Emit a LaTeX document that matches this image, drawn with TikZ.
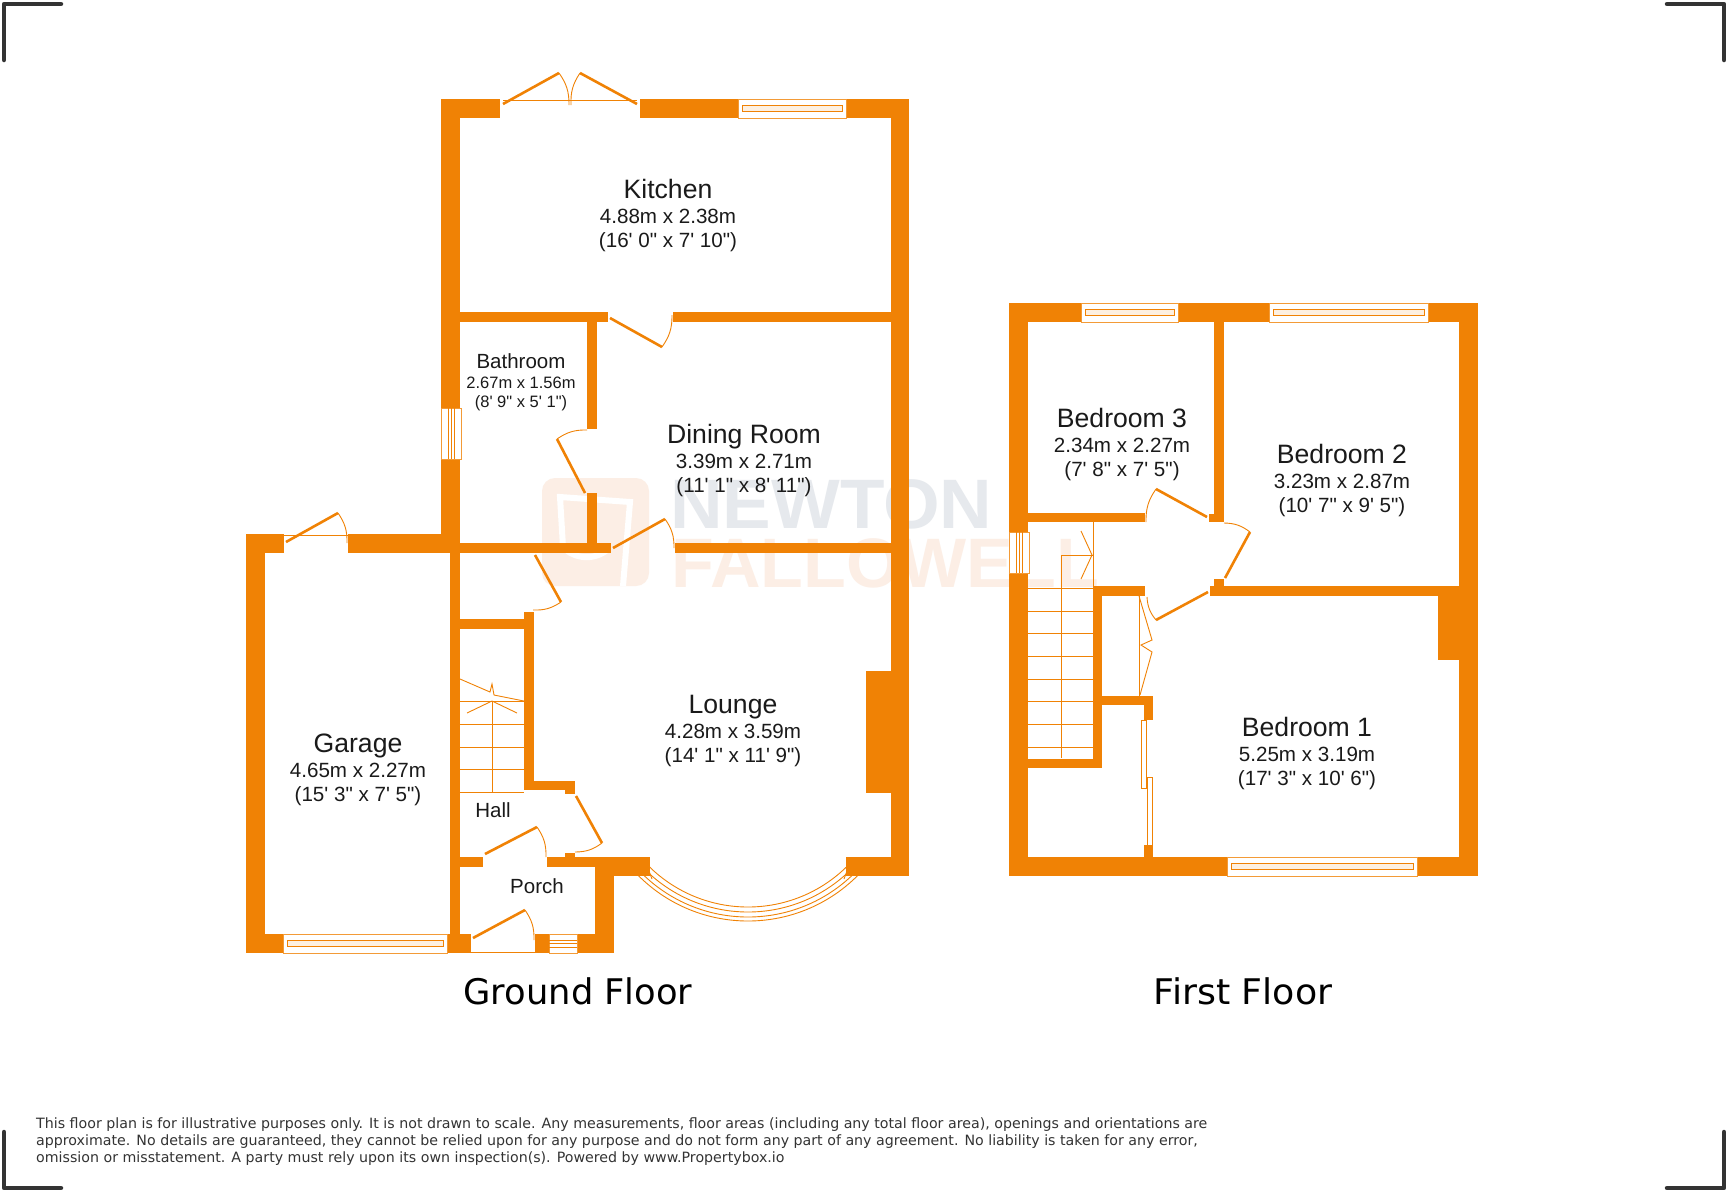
\documentclass[tikz,border=0pt]{standalone}
\usepackage{fontspec}
\newfontfamily\planfont{Liberation Sans}
\newfontfamily\notefont{DejaVu Sans}
\definecolor{wall}{HTML}{F08205}
\definecolor{ink}{HTML}{1A1A1A}
\definecolor{mark}{HTML}{333333}
\definecolor{markgrey}{HTML}{E6E9ED}
\definecolor{markpale}{HTML}{FCEEE5}
\newcommand*{\wallbox}[4]{\fill [wall] (#1,#2) rectangle (#3,#4);}
\newcommand*{\door}[4][left]{\draw [leaf] #2 -- #3; \draw [swing] #3 to [bend #1=18] #4;}
\newcommand*{\hwin}[4]{%
    \draw [pane] (#1,#2) rectangle (#3,#4);
    \draw [swing, fill=wall!12] (#1+4,{(#2+#4)/2-3}) rectangle (#3-4,{(#2+#4)/2+3});}
\newcommand*{\vwin}[4]{%
    \draw [pane] (#1,#2) rectangle (#3,#4);
    \foreach \dx in {-3,0,3} \draw [swing] ({(#1+#3)/2+\dx},#2) -- ({(#1+#3)/2+\dx},#4);}
\newcommand*{\room}[6]{%
    \node [roomname] (#1)    at (#2,#3)    {#4};
    \node [roomdim]  (#1m)   at (#2,#3+25) {#5};
    \node [roomdim]  (#1ft)  at (#2,#3+49) {#6};}
\tikzset{
    roomname/.style = {anchor=base, inner sep=0pt, text=ink, font=\planfont\fontsize{26.6}{30}\selectfont},
    roomdim/.style  = {anchor=base, inner sep=0pt, text=ink, font=\planfont\fontsize{20.6}{23}\selectfont},
    smallname/.style= {anchor=base, inner sep=0pt, text=ink, font=\planfont\fontsize{20.5}{24}\selectfont},
    smalldim/.style = {anchor=base, inner sep=0pt, text=ink, font=\planfont\fontsize{16.5}{20}\selectfont},
    floortitle/.style = {anchor=base, inner sep=0pt, text=black, font=\notefont\fontsize{35.3}{40}\selectfont},
    logotext/.style = {anchor=base west, inner sep=0pt, font=\planfont\bfseries\fontsize{70}{70}\selectfont},
    leaf/.style  = {draw=wall, line width=2.6pt},
    swing/.style = {draw=wall, line width=0.9pt},
    pane/.style  = {draw=wall!80!white, line width=0.9pt, fill=white},
    corner/.style = {draw=mark, line width=4.5pt, line cap=round, line join=round}
}

\begin{document}
\begin{tikzpicture}[x=1pt,y=-1pt]
    \useasboundingbox (0,0) rectangle (1728,1192);
    \fill [white] (0,0) rectangle (1728,1192);
    % crop marks
    \draw [corner] (4,60) -- (4,4) -- (61,4);
    \draw [corner] (1667,4) -- (1724,4) -- (1724,60);
    \draw [corner] (4,1132) -- (4,1188) -- (61,1188);
    \draw [corner] (1667,1188) -- (1724,1188) -- (1724,1132);
    % watermark behind the walls
    \fill [markpale, rounded corners=13pt] (542,478) rectangle (649,586);
    \draw [white, line width=6pt] (563,547) -- (560,497) -- (630,502) -- (623,586);
    \draw [white, line width=6pt] (563,547) .. controls (575,560) and (595,560) .. (607,550);
    \node [logotext, text=markgrey, xscale=1.04] (logotop) at (670,528) {NEWTON};
    \node [logotext, text=markpale] (logolow) at (671,587) {FALLOWELL};
    % ground floor walls
    \foreach \xa/\ya/\xb/\yb in {246/534/265/953, 246/534/284/553, 348/534/460/553, 441/99/460/534,
        441/99/500/118, 640/99/909/118, 891/99/909/876, 450/553/460/934,
        246/934/283/953, 447/934/471/953, 535/934/549/953, 577/934/614/953,
        595/857/614/953, 460/312/608/322, 673/312/891/322, 587/322/597/429, 587/493/597/543,
        460/543/611/553, 675/543/891/553, 460/619/525/629, 524/612/534/790, 534/781/565/790,
        565/781/575/794, 460/857/483/867, 547/857/650/867, 595/857/650/876, 565/853/575/857,
        846/857/909/876, 866/671/891/793}
        \wallbox{\xa}{\ya}{\xb}{\yb}
    % first floor walls
    \foreach \xa/\ya/\xb/\yb in {1009/303/1478/322, 1009/303/1028/876, 1459/303/1478/876, 1009/857/1478/876,
        1214/322/1224/522, 1209/514/1224/522, 1028/513/1145/522, 1028/759/1102/768, 1093/586/1102/768,
        1093/586/1145/596, 1210/586/1459/596, 1214/579/1224/586, 1438/586/1459/660,
        1102/696/1153/705, 1144/696/1153/720, 1144/845/1153/857}
        \wallbox{\xa}{\ya}{\xb}{\yb}
    % ground floor windows
    \hwin{738}{99}{846}{118}
    \hwin{283}{934}{447}{953}
    \vwin{441}{408}{461}{459}
    \draw [pane] (549,934) rectangle (577,953);
    \foreach \y in {940,943.5,947} \draw [swing] (549,\y) -- (577,\y);
    % ground floor doors
    \draw [swing] (503,100) -- (637,100);
    \door{(503,104)}{(559,73)}{(569,105)}
    \door[right]{(637,104)}{(580,73)}{(571,105)}
    \draw [swing] (284,535) -- (348,535);
    \door{(286,542)}{(338,513)}{(347,543)}
    \door[right]{(610,318)}{(662,347)}{(672,315)}
    \door{(585,493)}{(557,439)}{(587,430)}
    \door{(613,548)}{(665,519)}{(674,548)}
    \door{(535,555)}{(561,602)}{(533,610)}
    \door{(576,796)}{(602,843)}{(575,852)}
    \door{(485,854)}{(537,827)}{(546,857)}
    \door{(473,938)}{(525,910)}{(534,940)}
    \draw [swing] (471,952.5) -- (535,952.5);
    % bay window
    \foreach \r in {141,146,151,155}
        \draw [swing] (748,766) ++(135:\r) arc [start angle=135, end angle=45, radius=\r];
    \draw [swing] (649,871) -- (652,879);
    \draw [swing] (847,871) -- (844,879);
    % ground floor stairs
    \foreach \y in {701,724,747,769,792} \draw [swing] (460,\y) -- (524,\y);
    \draw [swing] (492,701) -- (492,792);
    \draw [swing] (467,713) -- (492,701) -- (517,713);
    \draw [swing] (460,679) -- (490,692) -- (492,684) -- (494,695) -- (524,701);
    % first floor windows
    \hwin{1081}{303}{1178}{322}
    \hwin{1269}{303}{1428}{322}
    \hwin{1227}{857}{1417}{876}
    \vwin{1009}{532}{1029}{573}
    % first floor doors
    \door[right]{(1207,517)}{(1156,489)}{(1146,522)}
    \door[right]{(1225,578)}{(1250,532)}{(1224,523)}
    \door{(1208,592)}{(1156,620)}{(1147,597)}
    % first floor stairs
    \foreach \y in {588,611,633,656,679,701,724,747} \draw [swing] (1028,\y) -- (1093,\y);
    \draw [swing] (1093,522) -- (1093,586);
    \draw [swing] (1061,758) -- (1061,555) -- (1093,555);
    \draw [swing] (1081,531) -- (1092,555) -- (1081,579);
    % cupboard doors
    \draw [swing] (1139,596) -- (1139,696);
    \draw [swing] (1139,596) -- (1152,640) -- (1141,645) -- (1152,652) -- (1140,695);
    \draw [swing] (1141,720) rectangle (1146,788);
    \draw [swing] (1147,777) rectangle (1152,845);
    % labels
    \room{kitchen}{668}{198}{Kitchen}{4.88m x 2.38m}{(16' 0" x 7' 10")}
    \room{dining}{744}{443}{Dining Room}{3.39m x 2.71m}{(11' 1" x 8' 11")}
    \room{lounge}{733}{713}{Lounge}{4.28m x 3.59m}{(14' 1" x 11' 9")}
    \room{garage}{358}{752}{Garage}{4.65m x 2.27m}{(15' 3" x 7' 5")}
    \room{bedthree}{1122}{427}{Bedroom 3}{2.34m x 2.27m}{(7' 8" x 7' 5")}
    \room{bedtwo}{1342}{463}{Bedroom 2}{3.23m x 2.87m}{(10' 7" x 9' 5")}
    \room{bedone}{1307}{736}{Bedroom 1}{5.25m x 3.19m}{(17' 3" x 10' 6")}
    \node [smallname] (bathroom)   at (521,368) {Bathroom};
    \node [smalldim]  (bathroomm)  at (521,388) {2.67m x 1.56m};
    \node [smalldim]  (bathroomft) at (521,407) {(8' 9" x 5' 1")};
    \node [smallname] (hall)  at (493,817) {Hall};
    \node [smallname] (porch) at (537,893) {Porch};
    \node [floortitle] (groundtitle) at (578,1004) {Ground Floor};
    \node [floortitle, xscale=1.03] (firsttitle) at (1243,1004) {First Floor};
    \node [anchor=base west, align=left, inner sep=0pt, text=mark,
        font=\notefont\fontsize{14.2}{17}\selectfont] (note) at (36,1162)
        {This floor plan is for illustrative purposes only. It is not drawn to scale. Any measurements, floor areas (including any total floor area), openings and orientations are\\
        approximate. No details are guaranteed, they cannot be relied upon for any purpose and do not form any part of any agreement. No liability is taken for any error,\\
        omission or misstatement. A party must rely upon its own inspection(s). Powered by www.Propertybox.io};
\end{tikzpicture}
\end{document}
